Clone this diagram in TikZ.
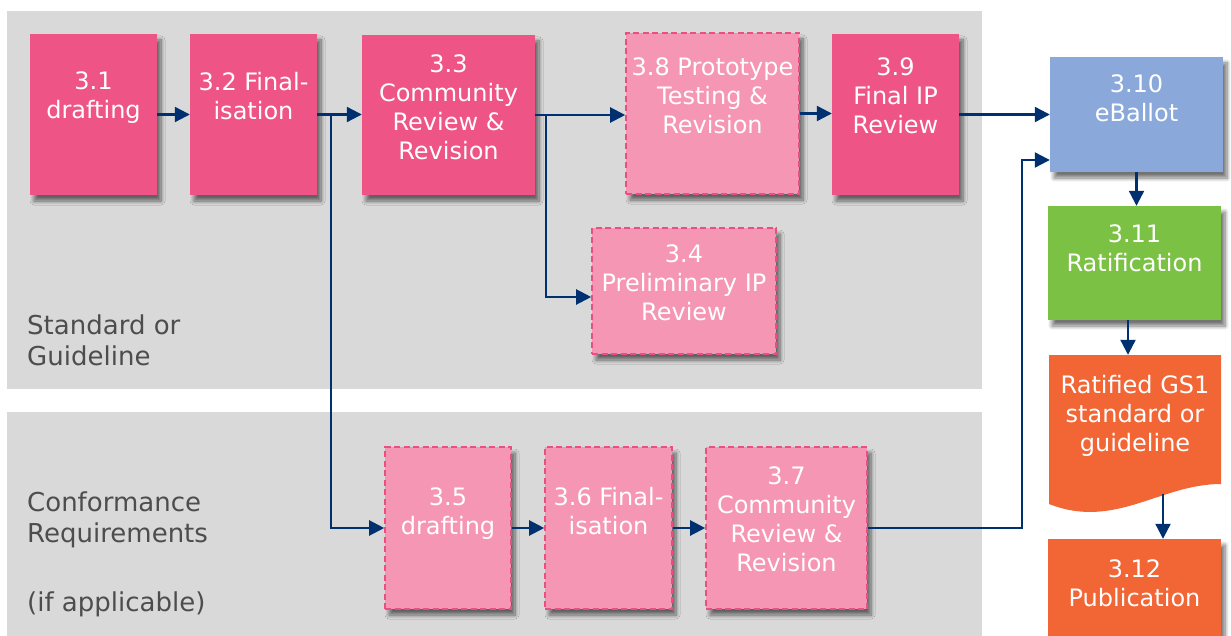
\documentclass[tikz,border=0pt]{standalone}
\usepackage{fontspec}
\setmainfont{DejaVu Sans}
\usetikzlibrary{positioning,arrows.meta,shadows.blur}

\definecolor{gsPink}{HTML}{EF5486}
\definecolor{gsLight}{HTML}{F596B4}
\definecolor{gsDash}{HTML}{EA4F84}
\definecolor{gsBlue}{HTML}{8AA9DA}
\definecolor{gsGreen}{HTML}{7BC143}
\definecolor{gsOrange}{HTML}{F26535}
\definecolor{gsNavy}{HTML}{003070}
\definecolor{gsBand}{HTML}{D9D9D9}
\definecolor{gsText}{HTML}{4D4D4D}

\begin{document}
\begin{tikzpicture}[x=1pt,y=-1pt,
  box/.style={rectangle,inner sep=0pt,blur shadow={shadow xshift=4pt,shadow yshift=-6pt,shadow blur radius=4pt,shadow blur steps=8,shadow opacity=55}},
  solidbox/.style={box,fill=gsPink},
  optbox/.style={box,fill=gsLight,draw=gsDash,line width=1.6pt,dash pattern=on 6pt off 3.5pt},
  btxt/.style={inner sep=0pt,align=center,text=white,font=\fontsize{24}{29}\selectfont},
  side/.style={inner sep=0pt,align=left,text=gsText,anchor=north west,font=\fontsize{26}{31}\selectfont},
  arr/.style={gsNavy,line width=2.2pt,-{Triangle[length=15pt,width=15pt]}}]
\useasboundingbox (0,0) rectangle (1231,636);

% bands
\fill[gsBand] (7,11) rectangle (982,389);
\fill[gsBand] (7,412) rectangle (982,636);
\node[side] (std) at (27,315) {Standard or\\Guideline};
\node[side] (conf) at (27,492) {Conformance\\Requirements};
\node[side] (ifap) at (27,592) {(if applicable)};

% standard or guideline
\node[solidbox,minimum width=127pt,minimum height=161pt] (s31) at (93.5,114.5) {};
\node[btxt,below=38pt of s31.north] (t31) {3.1\\drafting};
\node[solidbox,minimum width=127pt,minimum height=161pt] (s32) at (253.5,114.5) {};
\node[btxt,below=38pt of s32.north] (t32) {3.2 Final-\\isation};
\node[solidbox,minimum width=173pt,minimum height=160pt] (s33) at (448.5,115) {};
\node[btxt,below=20pt of s33.north] (t33) {3.3\\Community\\Review \&\\Revision};
\node[optbox,minimum width=173pt,minimum height=161pt] (s38) at (712.5,113.5) {};
\node[btxt,below=25pt of s38.north] (t38) {3.8 Prototype\\Testing \&\\Revision};
\node[solidbox,minimum width=127pt,minimum height=161pt] (s39) at (895.5,114.5) {};
\node[btxt,below=24pt of s39.north] (t39) {3.9\\Final IP\\Review};
\node[optbox,minimum width=184pt,minimum height=126pt] (s34) at (684,291) {};
\node[btxt,below=17pt of s34.north] (t34) {3.4\\Preliminary IP\\Review};

% conformance requirements
\node[optbox,minimum width=126pt,minimum height=162pt] (s35) at (448,528) {};
\node[btxt,below=41pt of s35.north] (t35) {3.5\\drafting};
\node[optbox,minimum width=127pt,minimum height=162pt] (s36) at (608.5,528) {};
\node[btxt,below=41pt of s36.north] (t36) {3.6 Final-\\isation};
\node[optbox,minimum width=161pt,minimum height=162pt] (s37) at (786.5,528) {};
\node[btxt,below=20pt of s37.north] (t37) {3.7\\Community\\Review \&\\Revision};

% ballot and after
\node[box,fill=gsBlue,minimum width=173pt,minimum height=115pt] (s310) at (1136.5,114.5) {};
\node[btxt,below=18pt of s310.north] (t310) {3.10\\eBallot};
\node[box,fill=gsGreen,minimum width=173pt,minimum height=114pt] (s311) at (1134.5,263) {};
\node[btxt,below=19pt of s311.north] (t311) {3.11\\Ratification};
\fill[gsOrange] (1049,355) -- (1221,355) -- (1221,484)
  .. controls (1160,484) and (1115,530) .. (1049,504) -- cycle;
\node[minimum width=172pt,minimum height=159pt,inner sep=0pt] (ratdoc) at (1135,434.5) {};
\node[btxt,below=20pt of ratdoc.north] (trat) {Ratified GS1\\standard or\\guideline};
\coordinate (ratend) at (1163,494);
\node[box,fill=gsOrange,minimum width=173pt,minimum height=110pt] (s312) at (1134.5,594) {};
\node[btxt,below=21pt of s312.north] (t312) {3.12\\Publication};

% connectors
\draw[arr] (s31.east) -- (s32.west);
\draw[arr] (s32.east) -- (s32.east -| s33.west);
\draw[arr] ([xshift=14pt]s32.east) |- (s35.west);
\draw[arr] (s33.east) -- (s33.east -| s38.west);
\draw[arr] ([xshift=11pt]s33.east) |- ([yshift=-6pt]s34.west);
\draw[arr] (s38.east) -- (s38.east -| s39.west);
\draw[arr] (s39.east) -- (s39.east -| s310.west);
\draw[arr] (s35.east) -- (s36.west);
\draw[arr] (s36.east) -- (s37.west);
\coordinate (j710) at (1022,160);
\draw[arr] (s37.east) -| (j710) -- (j710 -| s310.west);
\draw[arr] (s310.south) -- (s310.south |- s311.north);
\draw[arr] ([xshift=-6.5pt]s311.south) -- ([xshift=-6.5pt]s311.south |- ratdoc.north);
\draw[arr] (ratend) -- (ratend |- s312.north);
\end{tikzpicture}
\end{document}
